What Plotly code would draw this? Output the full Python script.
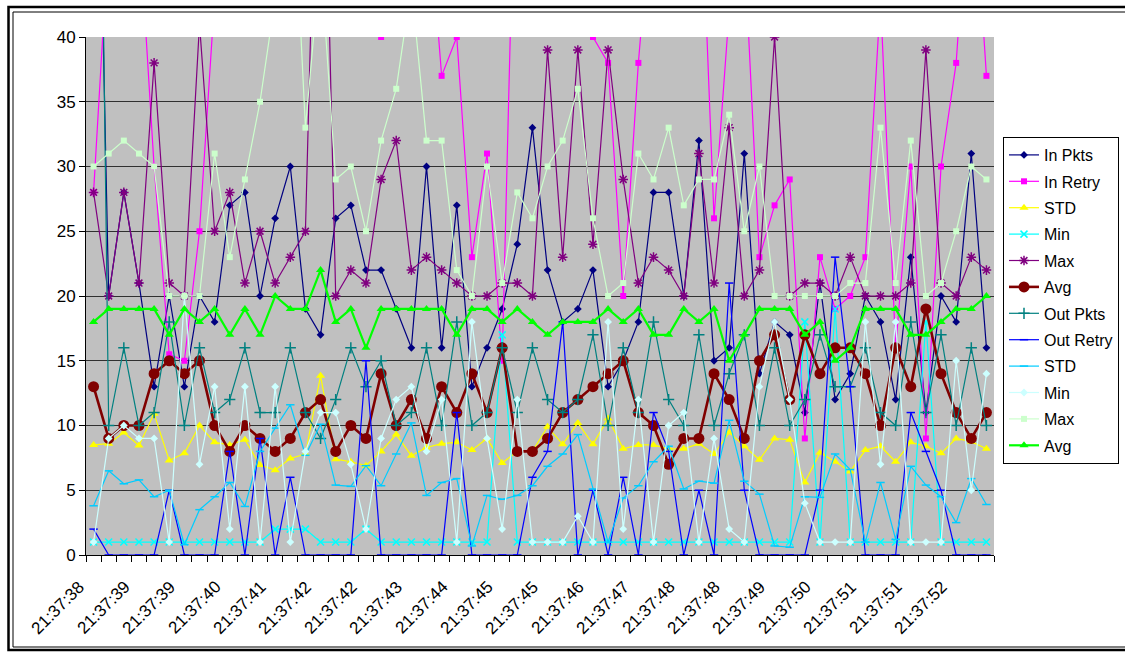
import plotly.graph_objects as go

# ---------------- data ----------------
tick_labels = ["21:37:38", "21:37:39", "21:37:39", "21:37:40", "21:37:41", "21:37:42",
               "21:37:42", "21:37:43", "21:37:44", "21:37:45", "21:37:45", "21:37:46",
               "21:37:47", "21:37:48", "21:37:48", "21:37:49", "21:37:50", "21:37:51",
               "21:37:51", "21:37:52"]
label_every = 3
n_points = 60
sample_index = list(range(n_points))

in_pkts = [75, 20, 28, 21, 13, 20, 13, 20, 18, 27, 28, 20, 26, 30, 19, 17, 26, 27, 22, 22,
           19, 16, 30, 16, 27, 13, 16, 19, 24, 33, 22, 18, 19, 22, 13, 15, 18, 28, 28, 20,
           32, 15, 16, 31, 14, 18, 17, 11, 21, 12, 14, 20, 18, 12, 23, 11, 20, 18, 31, 16]
in_retry = [28, 48, 60, 49, 30, 15.5, 15, 25, 43, 50, 50, 50, 50, 50, 50, 50, 50, 50, 50, 40,
            50, 50, 52, 37, 40, 23, 31, 15, 62, 50, 50, 50, 45, 40, 38, 20, 38, 52, 50, 50,
            56, 26, 42, 47, 23, 27, 29, 9, 23, 19, 20, 23, 43, 16, 30, 9, 30, 38, 55, 37]
in_std = [8.5, 8.6, 9.45, 8.45, 10.9, 7.3, 7.85, 10, 8.7, 8.5, 8.9, 6.95, 6.55, 7.45, 7.8, 13.85, 7.4, 7.2, 6.9, 8.0,
          9.3, 7.67, 8.3, 8.6, 8.7, 8.1, 9.0, 7.1, 8.0, 8.0, 9.9, 8.55, 10.2, 8.55, 10.55, 8.2, 8.5, 8.5, 8.2, 8.2,
          8.6, 7.8, 9.45, 8.4, 7.35, 9.0, 8.9, 5.6, 7.9, 7.2, 6.45, 8.1, 8.4, 7.2, 8.7, 8.4, 7.85, 9.0, 8.75, 8.2]
in_min = [1, 1, 1, 1, 1, 1, 1, 1, 1, 1, 1, 1, 2, 2, 2, 1, 1, 1, 2, 1,
          1, 1, 1, 1, 1, 1, 1, 17, 1, 1, 1, 1, 1, 1, 1, 1, 1, 1, 1, 1,
          1, 1, 1, 1, 1, 1, 1, 18, 1, 19, 1, 1, 1, 1, 1, 18, 1, 1, 1, 1]
in_max = [28, 20, 28, 21, 38, 21, 20, 41, 25, 28, 21, 25, 21, 23, 25, 70, 20, 22, 21, 29,
          32, 22, 23, 22, 21, 20, 20, 21, 21, 20, 39, 23, 39, 24, 39, 29, 21, 23, 22, 20,
          31, 21, 33, 20, 22, 40, 20, 21, 21, 20, 23, 20, 20, 20, 21, 39, 21, 20, 23, 22]
in_avg = [13, 9, 10, 10, 14, 15, 14, 15, 10, 8, 10, 9, 8, 9, 11, 12, 8, 10, 9, 14,
          10, 12, 9, 13, 11, 14, 11, 16, 8, 8, 9, 11, 12, 13, 14, 15, 11, 10, 7, 9,
          9, 14, 12, 9, 15, 17, 12, 17, 14, 16, 16, 14, 10, 16, 13, 19, 14, 11, 9, 11]
out_pkts = [100, 10, 16, 10, 11, 18, 10, 16, 11, 12, 16, 11, 11, 16, 11, 9, 12, 16, 13, 15,
            10, 11, 16, 10, 18, 10, 11, 16, 11, 16, 12, 11, 12, 17, 10, 16, 11, 18, 12, 10,
            17, 10, 14, 17, 10, 16, 10, 12, 17, 13, 13, 16, 11, 10, 18, 11, 17, 10, 16, 10]
out_retry = [2, 0, 0, 0, 0, 5, 0, 0, 0, 8, 0, 9, 0, 6, 0, 0, 0, 0, 15, 0,
             0, 0, 0, 0, 11, 0, 0, 0, 0, 6, 8, 18, 0, 5, 0, 6, 0, 11, 8, 0,
             5, 0, 21, 5, 0, 0, 0, 0, 5, 23, 13, 0, 0, 0, 11, 8, 5, 0, 0, 0]
out_std = [3.8, 6.5, 5.5, 5.8, 4.5, 5.0, 0.8, 3.5, 4.5, 5.6, 3.75, 8.0, 9.8, 11.6, 7.7, 10.1, 5.4, 5.3, 6.9, 5.35,
           7.8, 10.2, 4.6, 5.6, 5.9, 0.7, 4.6, 4.3, 4.6, 5.35, 6.85, 7.8, 9.3, 5.1, 1.0, 4.4, 5.35, 7.2, 8.4, 5.1,
           5.7, 5.55, 10.4, 5.7, 4.7, 0.7, 0.6, 4.5, 4.45, 7.8, 6.6, 1.0, 5.6, 1.2, 6.85, 5.4, 4.5, 2.5, 5.9, 3.9]
out_min = [1, 9, 10, 9, 9, 1, 20, 7, 13, 2, 13, 1, 13, 1, 8, 11, 11, 7, 2, 9,
           12, 13, 8, 12, 1, 18, 9, 2, 12, 1, 1, 1, 3, 1, 18, 2, 12, 1, 10, 11,
           1, 9, 2, 1, 13, 18, 12, 4, 1, 1, 1, 18, 7, 18, 1, 1, 1, 15, 5, 14]
out_max = [30, 31, 32, 31, 30, 20, 20, 20, 31, 23, 29, 35, 43, 57, 33, 46, 29, 30, 25, 32,
           36, 44, 32, 32, 22, 20, 30, 21, 28, 26, 30, 32, 36, 26, 20, 21, 31, 29, 33, 27,
           29, 29, 34, 25, 30, 20, 20, 20, 20, 20, 21, 21, 33, 21, 32, 20, 21, 25, 30, 29]
out_avg = [18, 19, 19, 19, 19, 17, 19, 18, 19, 17, 19, 17, 20, 19, 19, 22, 18, 19, 16, 19,
           19, 19, 19, 19, 17, 19, 19, 18, 19, 18, 17, 18, 18, 18, 19, 18, 19, 17, 17, 19,
           18, 19, 15, 17, 19, 19, 19, 17, 18, 15, 16, 19, 19, 19, 17, 17, 18, 19, 19, 20]

series_names = ["In Pkts", "In Retry", "STD", "Min", "Max", "Avg",
                "Out Pkts", "Out Retry", "STD", "Min", "Max", "Avg"]
series_values = [in_pkts, in_retry, in_std, in_min, in_max, in_avg,
                 out_pkts, out_retry, out_std, out_min, out_max, out_avg]

# ---------------- styles ----------------
styles = [
    dict(color="#000080", width=1.2, symbol="diamond", size=6, open=False),
    dict(color="#FF00FF", width=1.2, symbol="square", size=6, open=False),
    dict(color="#FFFF00", width=1.2, symbol="triangle-up", size=8, open=False),
    dict(color="#00FFFF", width=1.2, symbol="x-thin-open", size=7, open=True),
    dict(color="#800080", width=1.2, symbol="asterisk-open", size=8, open=True),
    dict(color="#800000", width=2.6, symbol="circle", size=11, open=False),
    dict(color="#008080", width=1.2, symbol="cross-thin-open", size=8, open=True),
    dict(color="#0000FF", width=1.2, symbol="line-ew-open", size=6, open=True),
    dict(color="#00CCFF", width=1.2, symbol="line-ew-open", size=6, open=True),
    dict(color="#CCFFFF", width=1.2, symbol="diamond", size=6, open=False),
    dict(color="#CCFFCC", width=1.2, symbol="square", size=6, open=False),
    dict(color="#00FF00", width=2.2, symbol="triangle-up", size=8, open=False),
]

fig = go.Figure()
for k, (name, vals, st) in enumerate(zip(series_names, series_values, styles)):
    marker = dict(symbol=st["symbol"], size=st["size"], color=st["color"])
    if st["open"]:
        marker["line"] = dict(color=st["color"], width=1.5)
    else:
        marker["line"] = dict(width=0)
    fig.add_trace(go.Scatter(
        x=sample_index, y=vals, name=name, mode="lines+markers",
        legendgroup="g%d" % k,
        line=dict(color=st["color"], width=st["width"]),
        marker=marker, cliponaxis=True,
    ))

font_family = "Liberation Sans, Arial, sans-serif"

# pixel -> paper helpers for plot area (left 86, top 37, width 908, height 518)
def px_x(p):
    return (p - 86) / 908.0

def px_y(p):
    return (555 - p) / 518.0

# rotated category labels (every third sample), placed through the x axis scale
label_annotations = []
for k, txt in enumerate(tick_labels):
    label_annotations.append(dict(
        text=txt, x=label_every * k - 0.24, xref="x", y=px_y(576.5), yref="paper",
        xanchor="right", yanchor="top", textangle=-45, showarrow=False,
        borderpad=0, font=dict(size=17, color="black", family=font_family)))

boundaries = [i - 0.5 for i in range(n_points + 1)]

fig.update_layout(
    width=1125, height=653,
    margin=dict(l=86, r=131, t=37, b=98, autoexpand=False),
    paper_bgcolor="white", plot_bgcolor="#C0C0C0",
    font=dict(family=font_family, size=16, color="black"),
    showlegend=True,
    legend=dict(x=px_x(1003), xanchor="left", y=px_y(137), yanchor="top",
                bgcolor="white", bordercolor="black", borderwidth=1,
                font=dict(size=16), tracegroupgap=2.6),
    xaxis=dict(range=[-0.5, n_points - 0.5], tickmode="array", tickvals=boundaries,
               showticklabels=False, ticks="outside", ticklen=6, tickcolor="black",
               tickwidth=1, showgrid=False,
               zeroline=False, showline=True, linecolor="black", linewidth=1),
    yaxis=dict(range=[0, 40], tickmode="linear", tick0=0, dtick=5, ticks="outside",
               ticklen=6, tickcolor="black", showgrid=True, gridcolor="#303030",
               gridwidth=1, zeroline=False, showline=True, linecolor="black",
               linewidth=1, tickfont=dict(size=17)),
    annotations=label_annotations,
    shapes=[
        dict(type="rect", xref="paper", yref="paper",
             x0=px_x(8.5), x1=px_x(1140), y0=px_y(650), y1=px_y(7),
             line=dict(color="black", width=2.5), fillcolor="rgba(0,0,0,0)", layer="below"),
        dict(type="rect", xref="paper", yref="paper",
             x0=px_x(13), x1=px_x(1140), y0=px_y(647), y1=px_y(12),
             line=dict(color="black", width=1), fillcolor="rgba(0,0,0,0)", layer="below"),
    ],
)

fig.write_html("out.html", config={"displayModeBar": False},
               post_script="document.body.style.margin='0px';document.body.style.overflow='hidden';")
